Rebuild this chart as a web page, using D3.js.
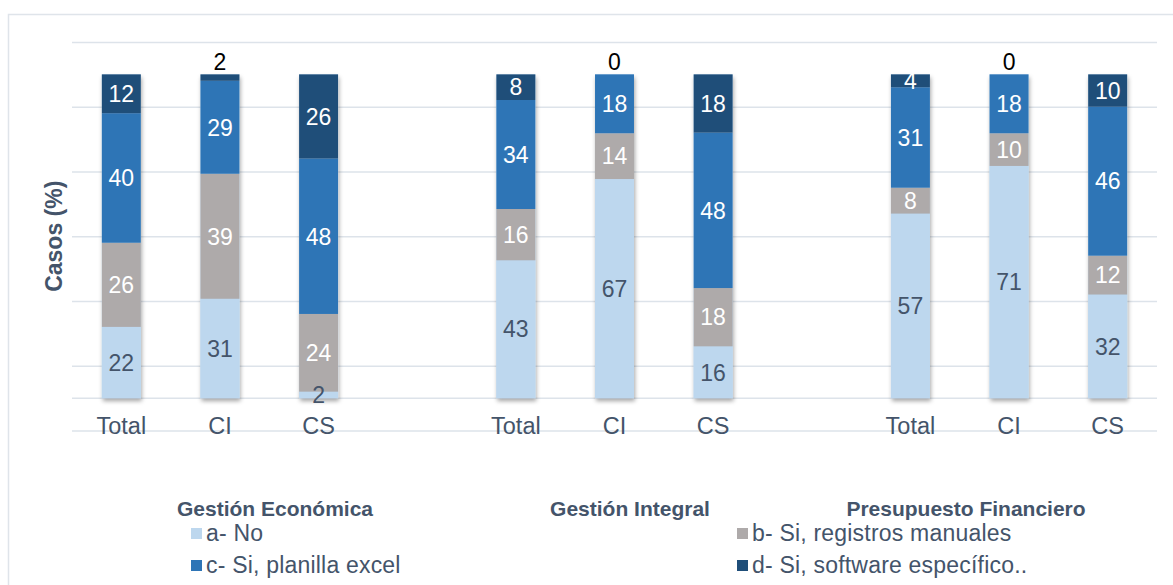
<!DOCTYPE html>
<html>
<head>
<meta charset="utf-8">
<script src="https://cdn.jsdelivr.net/npm/d3@7"></script>
<style>
  html, body { margin: 0; padding: 0; background: #fff; }
  svg { display: block; font-family: 'Liberation Sans', Arial, sans-serif; }
</style>
</head>
<body>
<svg id="chart" width="1173" height="585"></svg>
<script>
const groups = ['Gestión Económica', 'Gestión Integral', 'Presupuesto Financiero']
const categories = ['Total', 'CI', 'CS']
const seriesNames = ['a- No', 'b- Si, registros manuales', 'c- Si, planilla excel', 'd- Si, software específico..']
const seriesColors = ['#bdd7ee', '#aeaaaa', '#2e75b6', '#1f4e79']

// one value per bar, order: group x category
const noValues = [22, 31, 2, 43, 67, 16, 57, 71, 32]
const manualValues = [26, 39, 24, 16, 14, 18, 8, 10, 12]
const excelValues = [40, 29, 48, 34, 18, 48, 31, 18, 46]
const softwareValues = [12, 2, 26, 8, 0, 18, 4, 0, 10]

const gridValues = [-0.1, 0.1, 0.3, 0.5, 0.7, 0.9, 1.1]

const keys = ['a', 'b', 'c', 'd']
const rows = []
groups.forEach((g, gi) => {
  categories.forEach((c, ci) => {
    const i = gi * categories.length + ci
    rows.push({ group: g, cat: c, a: noValues[i], b: manualValues[i], c: excelValues[i], d: softwareValues[i] })
  })
})

const svg = d3.select('#chart')
const left = 72
const right = 1157
const textColor = '#44546a'

const defs = svg.append('defs')
defs.append('filter')
  .attr('id', 'shadow')
  .attr('x', '-20%').attr('y', '-5%').attr('width', '140%').attr('height', '115%')
  .append('feDropShadow')
  .attr('dx', 1).attr('dy', 3).attr('stdDeviation', 2)
  .attr('flood-color', '#000').attr('flood-opacity', 0.35)

// outer border
svg.append('rect')
  .attr('x', 8.5).attr('y', 14.5)
  .attr('width', 1200).attr('height', 600)
  .attr('fill', 'none')
  .attr('stroke', '#dfe4ea')
  .attr('stroke-width', 1.5)

const x0 = d3.scaleBand().domain(groups).range([left, right]).paddingInner(0.25).paddingOuter(0)
const x1 = d3.scaleBand().domain(categories).range([0, x0.bandwidth()]).paddingInner(0.605).paddingOuter(0.3025)
const y = d3.scaleLinear().domain([-0.1, 1.1]).range([430.5, 42])

// gridlines
svg.append('g')
  .attr('transform', `translate(${left},0)`)
  .call(d3.axisLeft(y).tickValues(gridValues).tickSize(-(right - left)).tickFormat(''))
  .call((g) => g.select('.domain').remove())
  .call((g) => g.selectAll('line').attr('stroke', '#dde3ea').attr('stroke-width', 1.5))

svg.append('line')
  .attr('x1', left).attr('x2', right)
  .attr('y1', y(0)).attr('y2', y(0))
  .attr('stroke', '#dde3ea').attr('stroke-width', 1.5)

const stack = d3.stack().keys(keys).offset(d3.stackOffsetExpand)
const series = stack(rows)

const barX = (d) => x0(d.data.group) + x1(d.data.cat)
const bw = x1.bandwidth()

// shadow under each whole column
svg.append('g')
  .selectAll('rect')
  .data(rows)
  .join('rect')
  .attr('x', (d) => x0(d.group) + x1(d.cat))
  .attr('y', y(1))
  .attr('width', bw)
  .attr('height', y(0) - y(1))
  .attr('fill', '#bdd7ee')
  .attr('filter', 'url(#shadow)')

svg.append('g')
  .selectAll('g')
  .data(series)
  .join('g')
  .attr('fill', (_, i) => seriesColors[i])
  .selectAll('rect')
  .data((s) => s)
  .join('rect')
  .attr('x', barX)
  .attr('y', (d) => y(d[1]))
  .attr('width', bw)
  .attr('height', (d) => Math.max(0, y(d[0]) - y(d[1])))

// data labels
series.forEach((s) => {
  svg.append('g')
    .selectAll('text')
    .data(s)
    .join('text')
    .attr('x', (d) => barX(d) + bw / 2)
    .attr('y', (d) => {
      const v = d.data[s.key]
      if (s.key === 'd' && v < 3) return y(1) - 13
      return (y(d[0]) + y(d[1])) / 2
    })
    .attr('dy', '0.36em')
    .attr('text-anchor', 'middle')
    .attr('font-size', 23)
    .attr('fill', (d) => {
      if (s.key === 'd' && d.data[s.key] < 3) return '#000'
      return s.key === 'a' ? textColor : '#fff'
    })
    .text((d) => d.data[s.key])
})

// category labels
svg.append('g')
  .selectAll('text')
  .data(rows)
  .join('text')
  .attr('x', (d) => x0(d.group) + x1(d.cat) + bw / 2)
  .attr('y', 434)
  .attr('text-anchor', 'middle')
  .attr('font-size', 23.5)
  .attr('fill', textColor)
  .text((d) => d.cat)

// y title
svg.append('text')
  .attr('transform', `translate(62, ${(y(0) + y(1)) / 2}) rotate(-90)`)
  .attr('text-anchor', 'middle')
  .attr('font-size', 23)
  .attr('font-weight', 'bold')
  .attr('fill', textColor)
  .text('Casos (%)')

// legend group titles
const titleX = [275, 630, 966]
svg.append('g')
  .selectAll('text')
  .data(groups)
  .join('text')
  .attr('x', (_, i) => titleX[i])
  .attr('y', 516)
  .attr('text-anchor', 'middle')
  .attr('font-size', 21)
  .attr('font-weight', 'bold')
  .attr('fill', textColor)
  .text((d) => d)

// legend items
const legendPos = [[191, 528], [737, 528], [191, 560], [737, 560]]
const items = svg.append('g')
  .selectAll('g')
  .data(seriesNames)
  .join('g')
  .attr('transform', (_, i) => `translate(${legendPos[i][0]},${legendPos[i][1]})`)

items.append('rect')
  .attr('width', 11).attr('height', 11)
  .attr('fill', (_, i) => seriesColors[i])

items.append('text')
  .attr('x', 15)
  .attr('y', 12.5)
  .attr('font-size', 23)
  .attr('letter-spacing', 0.2)
  .attr('fill', textColor)
  .text((d) => d)
</script>
</body>
</html>
